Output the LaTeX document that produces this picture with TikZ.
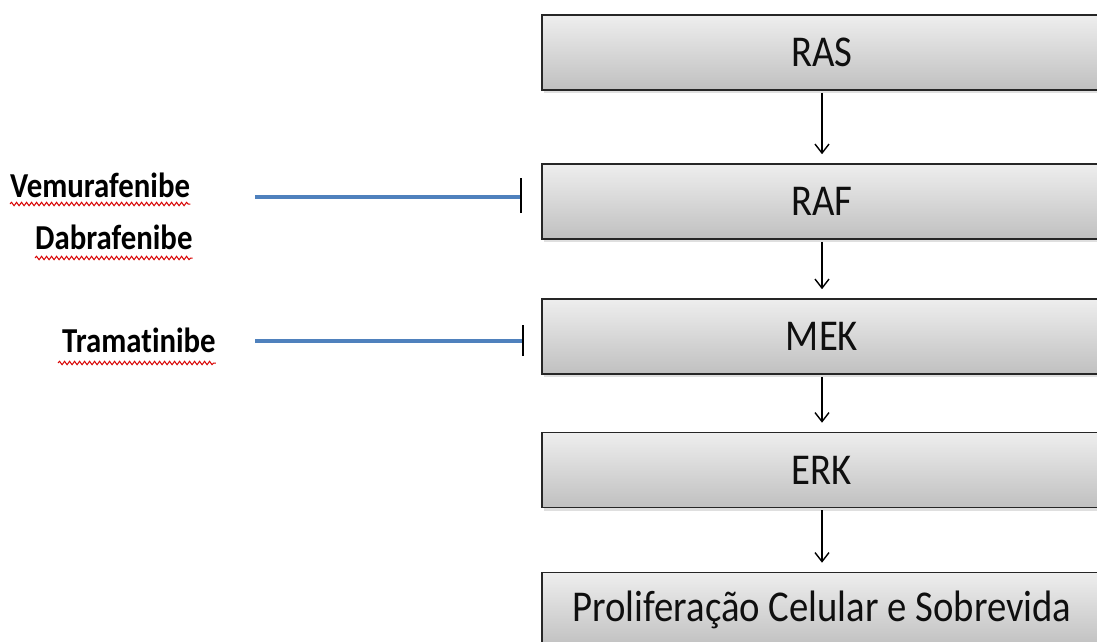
\documentclass[tikz,border=0pt]{standalone}
\usepackage{fontspec}
\setmainfont{Carlito}
\newfontfamily\boxfont[FakeStretch=0.88]{Carlito}
\newfontfamily\labfont[FakeStretch=0.88,RawFeature=-liga]{Carlito Bold}
\usetikzlibrary{arrows.meta,shadows,decorations.pathmorphing}
\definecolor{boxtop}{RGB}{238,238,238}
\definecolor{boxbot}{RGB}{192,192,192}
\definecolor{inhblue}{RGB}{79,129,189}
\definecolor{txtdark}{RGB}{15,15,15}
\tikzset{
  stepbox/.style={draw=black!85, line width=1.6pt, top color=boxtop, bottom color=boxbot,
    minimum width=560pt, minimum height=75pt, inner sep=0pt,
    font=\boxfont\fontsize{44}{44}\selectfont, text=txtdark,
    drop shadow={shadow xshift=2pt, shadow yshift=-3pt, opacity=0.25}},
  arr/.style={draw=black, line width=1.4pt, -{Straight Barb[length=9pt,width=14pt,line width=1.4pt]}, shorten >=9pt, shorten <=2pt},
  inhib/.style={draw=inhblue, line width=3.2pt},
  tbar/.style={draw=black, line width=1.8pt},
  druglab/.style={font=\labfont\fontsize{35}{35}\selectfont, text=black, inner sep=0pt, anchor=base west},
  spell/.style={draw=red!85!black, line width=1pt, decorate, decoration={snake, amplitude=1.7pt, segment length=5pt}}
}
\begin{document}
\begin{tikzpicture}[x=1pt,y=-1pt]
\useasboundingbox (0,0) rectangle (1097,641);
\clip (0,0) rectangle (1097,641);
\fill[white] (0,0) rectangle (1097,641);
% pathway boxes
\node[stepbox] (ras) at (822,52.5) {RAS};
\node[stepbox] (raf) at (822,201.5) {RAF};
\node[stepbox] (mek) at (822,336.5) {MEK};
\node[stepbox] (erk) at (822,470) {ERK};
\node[stepbox] (prol) at (822,610) {Proliferação Celular e Sobrevida};
% arrows
\draw[arr] (ras) -- (raf);
\draw[arr] (raf) -- (mek);
\draw[arr] (mek) -- (erk);
\draw[arr] (erk) -- (prol);
% drug labels
\node[druglab] (vem) at (10,197) {Vemurafenibe};
\node[druglab] (dab) at (35,249) {Dabrafenibe};
\node[druglab] (tra) at (62,352) {Tramatinibe};
\draw[spell] ([yshift=-7pt]vem.base west) -- ([yshift=-7pt]vem.base east);
\draw[spell] ([yshift=-9pt]dab.base west) -- ([yshift=-9pt]dab.base east);
\draw[spell] ([yshift=-11pt,xshift=-4pt]tra.base west) -- ([yshift=-11pt]tra.base east);
% inhibition lines
\coordinate (v1) at (255,197);
\coordinate (t1) at (521,197);
\coordinate (v2) at (255,341);
\coordinate (t2) at (523,341);
\draw[inhib] (v1) -- (t1);
\draw[tbar] ([yshift=-16pt]t1) -- ([yshift=19pt]t1);
\draw[inhib] (v2) -- (t2);
\draw[tbar] ([yshift=-15pt]t2) -- ([yshift=16pt]t2);
\end{tikzpicture}
\end{document}
